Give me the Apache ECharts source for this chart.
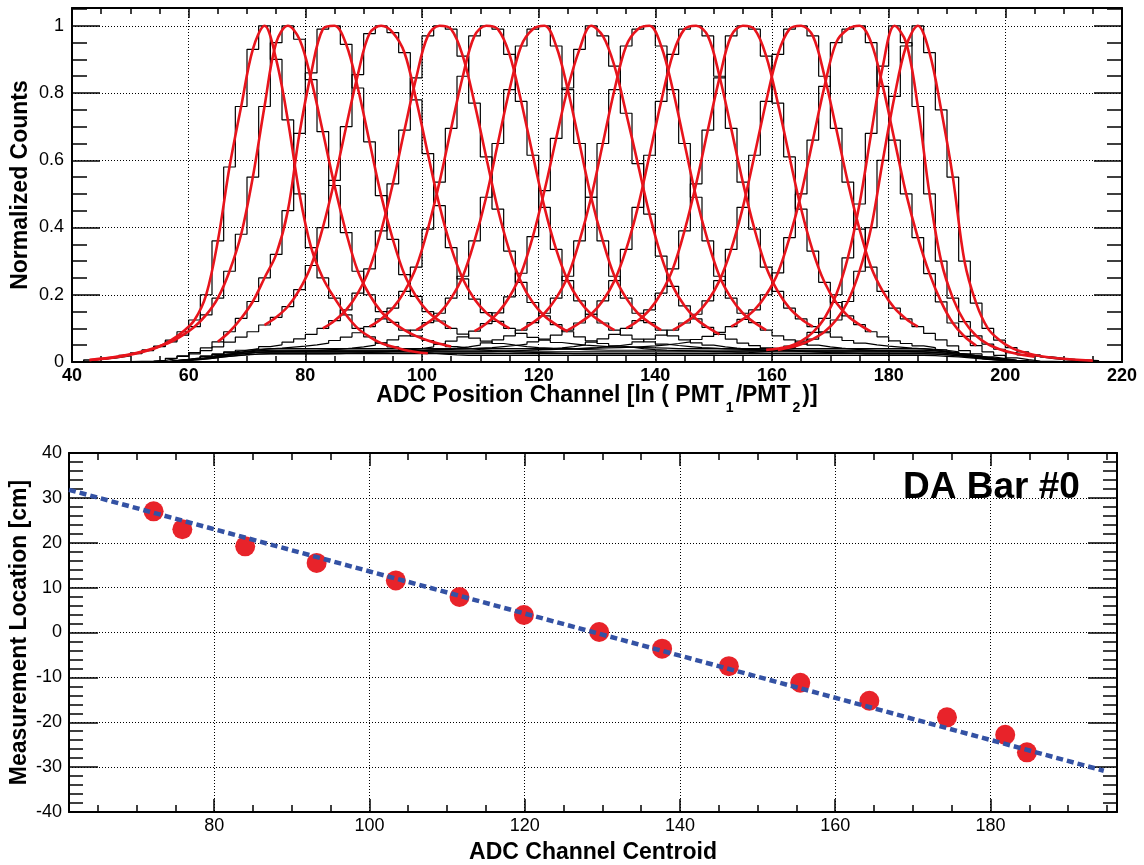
<!DOCTYPE html>
<html><head><meta charset="utf-8">
<script src="https://cdn.jsdelivr.net/npm/echarts@6/dist/echarts.min.js"></script>
<style>html,body{margin:0;padding:0;background:#fff}#c{width:1144px;height:865px}</style>
</head><body><div id="c"></div>
<script>
// ---------- TOP PANEL: normalized position-channel histograms (bins of 2 channels starting at 42) ----------
const histStart = 42;
const histBinWidth = 2;
const h01 = [0.006,0.009,0.013,0.018,0.025,0.034,0.046,0.065,0.09,0.125,0.2,0.36,0.58,0.76,0.93,1,0.9,0.72,0.5,0.34,0.25,0.19,0.14,0.1,0.075,0.056,0.045,0.036,0.03,0.026,0.023,0.021,
0.02,0.02,0.02,0.02,0.02,0.02,0.02,0.02,0.02,0.02,0.02,0.02,0.02,0.02,0.02,0.02,0.02,0.02,0.02,0.02,0.02,0.02,0.02,0.02,0.02,0.02,0.02,0.02,0.02,0.02,0.02,0.02,0.02,0.02,0.02,0.02,0.02,0.02,0.02,0.02,
0.019,0.017,0.015,0.012,0.009,0.006,0.004,0.002,0.001];
const h02 = [0.006,0.01,0.014,0.02,0.027,0.036,0.047,0.06,0.08,0.105,0.14,0.19,0.27,0.38,0.55,0.76,0.95,1,0.96,0.84,0.685,0.525,0.385,0.27,0.2,0.15,0.118,0.095,0.077,0.064,0.054,0.046,0.041,0.037,0.034,0.032,0.03,0.029,0.028,0.027,0.026,
0.025,0.025,0.025,0.025,0.025,0.025,0.025,0.025,0.025,0.025,0.025,0.025,0.025,0.025,0.025,0.025,0.025,0.025,0.025,0.025,0.025,0.025,0.025,0.025,0.025,0.025,0.025,0.025,0.025,0.025,0.025,
0.024,0.022,0.019,0.015,0.011,0.008,0.005,0.003,0.001];
const h03 = [0,0,0,0,0.001,0.002,0.005,0.01,0.018,0.028,0.042,0.06,0.09,0.13,0.18,0.25,0.32,0.45,0.68,0.86,0.99,1,0.945,0.815,0.655,0.495,0.365,0.26,0.195,0.15,0.122,0.1,0.083,0.071,0.062,0.055,0.05,0.046,0.043,0.041,0.039,0.038,0.037,0.036,
0.035,0.035,0.035,0.035,0.035,0.035,0.035,0.035,0.035,0.035,0.035,0.035,0.035,0.035,0.035,0.035,0.035,0.035,0.035,0.035,0.035,0.035,0.035,0.035,0.035,0.035,0.035,0.035,
0.033,0.03,0.026,0.021,0.016,0.011,0.007,0.004,0.002];
const h04 = [0,0,0,0.001,0.002,0.003,0.005,0.011,0.017,0.024,0.034,0.045,0.059,0.074,0.09,0.11,0.133,0.165,0.215,0.287,0.4,0.54,0.7,0.855,0.977,1,0.98,0.92,0.78,0.62,0.465,0.34,0.247,0.187,0.147,0.121,0.1,0.085,0.073,0.065,0.058,0.054,0.05,0.048,0.046,0.045,0.044,0.043,0.042,0.041,
0.04,0.04,0.04,0.04,0.04,0.04,0.04,0.04,0.04,0.04,0.04,0.04,0.04,0.04,0.04,0.04,0.04,0.04,0.04,0.04,0.04,0.04,
0.038,0.035,0.03,0.024,0.018,0.012,0.008,0.004,0.002];
const h05 = [0,0,0,0,0,0,0,0.003,0.0065,0.01,0.016,0.022,0.029,0.035,0.04,0.046,0.051,0.059,0.069,0.082,0.1,0.123,0.155,0.205,0.277,0.39,0.53,0.69,0.845,0.97,1,
0.99,0.91,0.77,0.61,0.455,0.33,0.237,0.177,0.137,0.111,0.09,0.075,0.063,0.055,0.048,0.044,0.04,0.037,0.035,0.034,0.033,0.032,0.031,
0.03,0.03,0.03,0.03,0.03,0.03,0.03,0.03,0.03,0.03,0.03,0.03,0.03,0.03,0.03,0.03,0.03,0.03,
0.028,0.026,0.022,0.018,0.013,0.009,0.006,0.003,0.0015];
const h06 = [0,0,0,0,0,0,0,0.004,0.007,0.01,0.016,0.021,0.027,0.032,0.036,0.039,0.041,0.044,0.047,0.051,0.056,0.064,0.074,0.087,0.105,0.128,0.16,0.21,0.282,0.395,0.535,0.695,0.85,0.97,1,
0.99,0.915,0.775,0.615,0.46,0.335,0.242,0.182,0.142,0.116,0.095,0.08,0.068,0.06,0.053,0.049,0.046,0.043,0.041,0.039,0.038,0.037,0.036,
0.035,0.035,0.035,0.035,0.035,0.035,0.035,0.035,0.035,0.035,0.035,0.035,0.035,0.035,
0.033,0.03,0.026,0.021,0.016,0.011,0.007,0.004,0.002];
const h07 = [0,0,0,0,0,0,0,0.003,0.006,0.009,0.014,0.018,0.023,0.026,0.029,0.03,0.031,0.032,0.033,0.034,0.036,0.038,0.041,0.045,0.05,0.057,0.066,0.078,0.095,0.117,0.145,0.19,0.255,0.36,0.49,0.65,0.81,0.94,0.99,
1,0.94,0.81,0.65,0.49,0.36,0.255,0.19,0.145,0.117,0.095,0.078,0.066,0.057,0.05,0.045,0.041,0.038,0.036,0.034,0.033,0.032,0.031,
0.03,0.03,0.03,0.03,0.03,0.03,0.03,0.03,0.03,0.03,
0.028,0.026,0.022,0.018,0.013,0.009,0.006,0.003,0.002];
const h08 = [0,0,0,0,0,0,0,0.002,0.005,0.007,0.011,0.015,0.018,0.021,0.023,0.024,0.024,0.024,0.024,0.024,0.024,0.025,0.026,0.027,0.029,0.031,0.033,0.036,0.04,0.045,0.052,0.062,0.075,0.092,0.114,0.146,0.194,0.264,0.373,0.51,0.665,0.815,0.93,1,
0.97,0.88,0.74,0.59,0.44,0.315,0.225,0.167,0.128,0.103,0.082,0.068,0.056,0.049,0.042,0.038,0.034,0.032,0.03,0.028,0.027,0.026,
0.024,0.024,0.024,0.024,0.024,0.024,
0.023,0.021,0.018,0.015,0.011,0.007,0.005,0.002,0.001];
const h09 = [0,0,0,0,0,0,0,0.003,0.006,0.009,0.014,0.018,0.023,0.026,0.029,
0.03,0.03,0.03,0.03,0.03,0.03,0.03,0.03,0.03,0.03,
0.031,0.032,0.033,0.034,0.036,0.038,0.041,0.045,0.05,0.057,0.066,0.078,0.095,0.117,0.145,0.19,0.255,0.36,0.49,0.65,0.81,0.94,0.99,
1,0.94,0.81,0.65,0.49,0.36,0.255,0.19,0.145,0.117,0.095,0.078,0.066,0.057,0.05,0.045,0.041,0.038,0.036,0.034,0.033,0.032,0.031,0.03,0.029,0.026,0.023,0.018,0.014,0.009,0.006,0.003,0.002,0.001];
const h10 = [0,0,0,0,0,0,0,0.004,0.007,0.01,0.016,0.021,0.026,0.03,0.033,
0.035,0.035,0.035,0.035,0.035,0.035,0.035,0.035,0.035,0.035,0.035,0.035,0.035,0.035,
0.036,0.037,0.038,0.039,0.041,0.043,0.046,0.049,0.053,0.06,0.068,0.08,0.095,0.116,0.142,0.182,0.242,0.335,0.46,0.615,0.775,0.915,0.99,
1,0.97,0.85,0.695,0.535,0.395,0.282,0.21,0.16,0.128,0.105,0.087,0.074,0.064,0.056,0.051,0.047,0.044,0.041,0.039,0.036,0.032,0.027,0.021,0.016,0.01,0.007,0.004,0.002];
const h11 = [0,0,0,0,0,0,0,0.003,0.006,0.009,0.014,0.018,0.023,0.026,0.029,
0.03,0.03,0.03,0.03,0.03,0.03,0.03,0.03,0.03,0.03,0.03,0.03,0.03,0.03,0.03,0.03,0.03,0.03,0.03,
0.031,0.032,0.033,0.035,0.037,0.039,0.042,0.046,0.051,0.059,0.069,0.082,0.1,0.123,0.155,0.205,0.277,0.39,0.53,0.69,0.845,0.97,1,
0.99,0.91,0.77,0.61,0.455,0.33,0.237,0.177,0.137,0.111,0.09,0.075,0.063,0.055,0.048,0.043,0.036,0.028,0.021,0.015,0.01,0.007,0.003,0.002,0.001];
const h12 = [0,0,0,0,0,0,0,0.004,0.007,0.01,0.016,0.021,0.026,0.03,0.033,
0.035,0.035,0.035,0.035,0.035,0.035,0.035,0.035,0.035,0.035,0.035,0.035,0.035,0.035,0.035,0.035,0.035,0.035,0.035,0.035,0.035,0.035,0.035,
0.036,0.037,0.038,0.039,0.041,0.043,0.046,0.049,0.053,0.06,0.068,0.08,0.095,0.116,0.142,0.182,0.242,0.335,0.46,0.615,0.775,0.915,0.99,
1,0.97,0.85,0.695,0.535,0.395,0.282,0.21,0.16,0.128,0.105,0.085,0.066,0.048,0.034,0.024,0.015,0.01,0.005,0.003,0.001];
const h13 = [0,0,0,0,0,0,0,0.004,0.008,0.012,0.018,0.024,0.03,0.035,0.038,
0.04,0.04,0.04,0.04,0.04,0.04,0.04,0.04,0.04,0.04,0.04,0.04,0.04,0.04,0.04,0.04,0.04,0.04,0.04,0.04,0.04,0.04,0.04,0.04,0.04,0.04,0.04,0.04,
0.041,0.042,0.043,0.044,0.046,0.048,0.051,0.055,0.06,0.067,0.076,0.088,0.105,0.127,0.155,0.2,0.265,0.37,0.5,0.66,0.82,0.95,0.99,
1,0.95,0.82,0.66,0.5,0.37,0.263,0.179,0.116,0.076,0.049,0.03,0.02,0.012,0.007,0.003,0.002,0.001];
const h14 = [0,0,0,0,0,0,0,0.003,0.006,0.009,0.014,0.018,0.023,0.026,0.029,
0.03,0.03,0.03,0.03,0.03,0.03,0.03,0.03,0.03,0.03,0.03,0.03,0.03,0.03,0.03,0.03,0.03,0.03,0.03,0.03,0.03,0.03,0.03,0.03,0.03,0.03,0.03,0.03,0.03,0.03,0.03,0.03,0.03,0.03,0.03,0.03,0.03,0.03,0.03,
0.031,0.032,0.033,0.034,0.036,0.04,0.047,0.062,0.088,0.13,0.2,0.31,0.47,0.68,0.88,1,
0.95,0.76,0.5,0.3,0.19,0.12,0.078,0.053,0.038,0.028,0.021,0.016,0.011,0.007,0.004,0.002,0.001];
const h15 = [0,0,0,0,0,0,0,0.003,0.005,0.008,0.011,0.015,0.019,0.022,0.024,
0.025,0.025,0.025,0.025,0.025,0.025,0.025,0.025,0.025,0.025,0.025,0.025,0.025,0.025,0.025,0.025,0.025,0.025,0.025,0.025,0.025,0.025,0.025,0.025,0.025,0.025,0.025,0.025,0.025,0.025,0.025,0.025,0.025,0.025,0.025,0.025,0.025,0.025,0.025,
0.026,0.027,0.028,0.03,0.032,0.036,0.043,0.053,0.068,0.09,0.125,0.18,0.27,0.4,0.6,0.79,0.94,
1,0.92,0.75,0.55,0.3,0.175,0.1,0.065,0.043,0.03,0.021,0.015,0.011,0.008,0.006,0.004];
const histograms = [h01,h02,h03,h04,h05,h06,h07,h08,h09,h10,h11,h12,h13,h14,h15];
// channel range covered by each red fit curve
const fitLo = [43,43,65,73,83,91,99,109,117,125,135,143,153,159,161];
const fitHi = [101,105,105,115,125,133,141,151,159,167,177,185,195,205,215];

// ---------- BOTTOM PANEL: calibration ----------
const centroid = [72.2,75.9,84.0,93.2,103.4,111.6,119.9,129.6,137.7,146.3,155.5,164.4,174.4,181.9,184.7];
const locationCm = [27.0,23.0,19.2,15.5,11.6,7.9,3.9,0.1,-3.6,-7.5,-11.2,-15.2,-18.9,-22.8,-26.7];
const fitLineX = [61.3,194.6];
const fitLineY = [31.8,-30.8];

// tick labels
const topXLabels = [40,60,80,100,120,140,160,180,200,220];
const topYLabels = [0,0.2,0.4,0.6,0.8,1];
const botXLabels = [80,100,120,140,160,180];
const botYLabels = [-40,-30,-20,-10,0,10,20,30,40];

const FONT = "'Liberation Sans', Arial, Helvetica, sans-serif";
function range(a,b,s){const r=[];for(let v=a;v<=b+1e-9;v+=s)r.push(Math.round(v*1000)/1000);return r;}
const topXMinor = range(40,220,5);
const topYMinor = range(0,1.05,0.05);
const botXMinor = range(65,195,5);
const botYMinor = range(-40,40,2);

const axisLineStyle = {color:'#000', width:2};
const tickStyle = {color:'#000', width:1.5};
const splitStyle = {show:true, lineStyle:{color:'#000', width:1, type:[1,2]}};

function xAxes(grid, min, max, extra, major, minor, majLen, minLen, labelStyle, nameOpts){
  const base = {type:'value', gridIndex:grid, min:min, max:max, ...extra};
  return [
    Object.assign({}, base, {position:'bottom', axisLine:{show:true,onZero:false,lineStyle:axisLineStyle},
      axisTick:{show:true,inside:true,length:majLen,lineStyle:tickStyle,customValues:major},
      axisLabel:Object.assign({show:true,customValues:major,margin:5,color:'#000',fontFamily:FONT,fontSize:18},labelStyle),
      splitLine:splitStyle}, nameOpts),
    Object.assign({}, base, {position:'bottom', axisLine:{show:false,onZero:false},
      axisTick:{show:true,inside:true,length:minLen,lineStyle:tickStyle,customValues:minor},
      axisLabel:{show:false}, splitLine:{show:false}}),
    Object.assign({}, base, {position:'top', axisLine:{show:true,onZero:false,lineStyle:axisLineStyle},
      axisTick:{show:true,inside:true,length:majLen,lineStyle:tickStyle,customValues:major},
      axisLabel:{show:false}, splitLine:{show:false}}),
    Object.assign({}, base, {position:'top', axisLine:{show:false,onZero:false},
      axisTick:{show:true,inside:true,length:minLen,lineStyle:tickStyle,customValues:minor},
      axisLabel:{show:false}, splitLine:{show:false}})
  ];
}
function yAxes(grid, min, max, extra, major, minor, majLen, minLen, labelStyle, nameOpts){
  const base = {type:'value', gridIndex:grid, min:min, max:max, ...extra};
  return [
    Object.assign({}, base, {position:'left', axisLine:{show:true,onZero:false,lineStyle:axisLineStyle},
      axisTick:{show:true,inside:true,length:majLen,lineStyle:tickStyle,customValues:major},
      axisLabel:Object.assign({show:true,customValues:major,margin:8,color:'#000',fontFamily:FONT,fontSize:18},labelStyle),
      splitLine:splitStyle}, nameOpts),
    Object.assign({}, base, {position:'left', axisLine:{show:false,onZero:false},
      axisTick:{show:true,inside:true,length:minLen,lineStyle:tickStyle,customValues:minor},
      axisLabel:{show:false}, splitLine:{show:false}}),
    Object.assign({}, base, {position:'right', axisLine:{show:true,onZero:false,lineStyle:axisLineStyle},
      axisTick:{show:true,inside:true,length:majLen,lineStyle:tickStyle,customValues:major},
      axisLabel:{show:false}, splitLine:{show:false}}),
    Object.assign({}, base, {position:'right', axisLine:{show:false,onZero:false},
      axisTick:{show:true,inside:true,length:minLen,lineStyle:tickStyle,customValues:minor},
      axisLabel:{show:false}, splitLine:{show:false}})
  ];
}
const titleStyle = {fontFamily:FONT, fontSize:23, fontWeight:'bold', color:'#000'};

const xAxis = [].concat(
  xAxes(0, 40, 220, {interval:20}, topXLabels, topXMinor, 10, 6, {fontWeight:'bold', margin:5},
    {name:'{m|ADC Position Channel [ln ( PMT}{s|1}{m|/PMT}{s|2}{m|)]}', nameLocation:'middle', nameGap:22, nameMoveOverlap:false,
     nameTextStyle:{rich:{m:Object.assign({verticalAlign:'top',lineHeight:23},titleStyle),
                          s:{fontFamily:FONT,fontSize:14,fontWeight:'bold',color:'#000',verticalAlign:'bottom',lineHeight:31,padding:[0,2,0,2]}}}}),
  xAxes(1, 61.3, 196.3, {splitNumber:7}, botXLabels, botXMinor, 13, 7, {margin:5},
    {name:'ADC Channel Centroid', nameLocation:'middle', nameGap:29, nameMoveOverlap:false, nameTextStyle:titleStyle})
);
const yAxis = [].concat(
  yAxes(0, 0, 1.053, {interval:0.2}, topYLabels, topYMinor, 28, 15, {margin:8},
    {name:'Normalized Counts', nameLocation:'middle', nameGap:40, nameMoveOverlap:false, nameTextStyle:titleStyle}),
  yAxes(1, -40, 40, {interval:10}, botYLabels, botYMinor, 29, 14, {margin:7},
    {name:'Measurement Location [cm]', nameLocation:'middle', nameGap:38, nameMoveOverlap:false, nameTextStyle:titleStyle})
);

const series = [];
histograms.forEach(function(h){
  const pts = [[histStart, 0]];
  h.forEach(function(v,i){ pts.push([histStart + i*histBinWidth, v]); });
  const xEnd = histStart + h.length*histBinWidth;
  pts.push([xEnd, h[h.length-1]]);
  pts.push([xEnd, 0]);
  series.push({type:'line', step:'end', data:pts, xAxisIndex:0, yAxisIndex:0, symbol:'none', silent:true,
    lineStyle:{color:'#000', width:1.2}, z:2});
});
histograms.forEach(function(h,k){
  const pts = [];
  h.forEach(function(v,i){ const x = histStart + (i+0.5)*histBinWidth; if (x>=fitLo[k] && x<=fitHi[k]) pts.push([x, v]); });
  series.push({type:'line', smooth:0.35, data:pts, xAxisIndex:0, yAxisIndex:0, symbol:'none', silent:true,
    lineStyle:{color:'#e8141c', width:2.6}, z:3});
});
series.push({type:'scatter', xAxisIndex:4, yAxisIndex:4, data:centroid.map(function(x,i){return [x, locationCm[i]];}),
  symbol:'circle', symbolSize:20, itemStyle:{color:'#e8232a', opacity:1}, z:3, silent:true});
series.push({type:'line', xAxisIndex:4, yAxisIndex:4, data:fitLineX.map(function(x,i){return [x, fitLineY[i]];}),
  symbol:'none', lineStyle:{color:'#3452a4', width:4.5, type:[7,4]}, z:4, silent:true});

const chart = echarts.init(document.getElementById('c'), null, {renderer:'canvas'});
chart.setOption({
  animation:false,
  backgroundColor:'#fff',
  title:{text:'DA Bar #0', left:903, top:469, padding:0, textStyle:{fontFamily:FONT, fontSize:37, fontWeight:'bold', color:'#000'}},
  grid:[{left:72, top:8, width:1050, height:354}, {left:69, top:453, width:1048, height:359}],
  xAxis:xAxis, yAxis:yAxis, series:series
});
</script></body></html>
